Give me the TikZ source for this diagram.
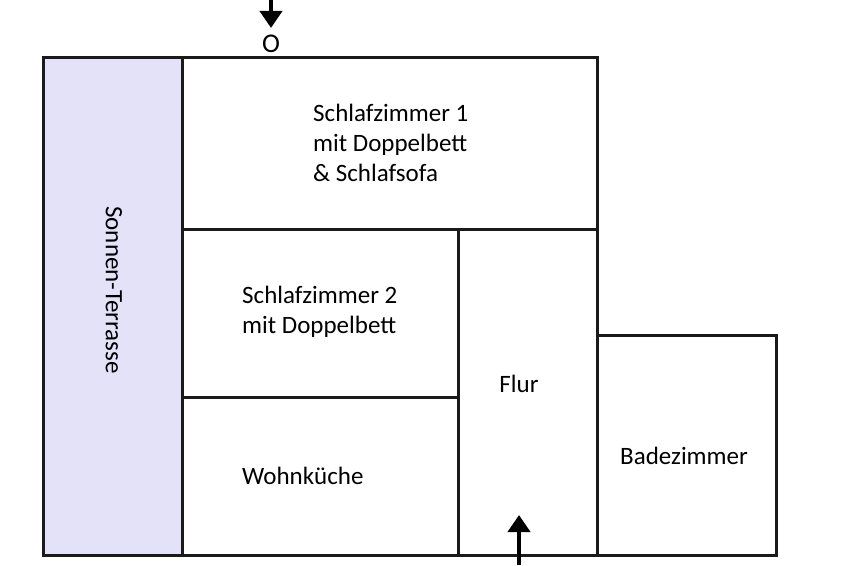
\documentclass[tikz,border=0pt]{standalone}
\usepackage{fontspec}
\setmainfont{Carlito}
\usetikzlibrary{arrows.meta}
\definecolor{terr}{HTML}{E4E2F8}
\definecolor{ln}{HTML}{1A1A1A}
\begin{document}
\begin{tikzpicture}[x=1pt,y=-1pt,
  room/.style={draw=ln,line width=3pt,rectangle,inner sep=0pt,anchor=north west},
  lbl/.style={font=\fontsize{25}{30}\selectfont,align=left,inner sep=0pt,text=black},
  arr/.style={draw=black,line width=4pt,-{Triangle[width=22pt,length=17pt]}}]
\useasboundingbox (0,0) rectangle (848,565);
\node[room,fill=terr,minimum width=139pt,minimum height=498pt] (terrasse) at (42,56) {};
\node[room,minimum width=415pt,minimum height=172pt] (sz1) at (181,56) {};
\node[room,minimum width=276pt,minimum height=168pt] (sz2) at (181,228) {};
\node[room,minimum width=276pt,minimum height=158pt] (wk) at (181,396) {};
\node[room,minimum width=139pt,minimum height=326pt] (flur) at (457,228) {};
\node[room,minimum width=179pt,minimum height=220pt] (bad) at (596,334) {};
\node[lbl,anchor=west] (t1) at (313,143) {Schlafzimmer 1\\mit Doppelbett\\\& Schlafsofa};
\node[lbl,anchor=west] (t2) at (242,312) {Schlafzimmer 2\\mit Doppelbett};
\node[lbl,anchor=west] (t3) at (242,476) {Wohnküche};
\node[lbl] (t4) at (519,384) {Flur};
\node[lbl,anchor=west] (t5) at (620,456) {Badezimmer};
\node[lbl,rotate=-90] (t6) at (114,290) {Sonnen-Terrasse};
\node[font=\fontsize{27}{30}\selectfont,inner sep=0pt,text=black] (o) at (271,44) {O};
\coordinate (topstart) at (271,0);
\coordinate (botstart) at (519,565);
\coordinate (botend) at (519,515);
\draw[arr] (topstart) -- ([yshift=7pt]o.north);
\draw[arr] (botstart) -- (botend);
\end{tikzpicture}
\end{document}
